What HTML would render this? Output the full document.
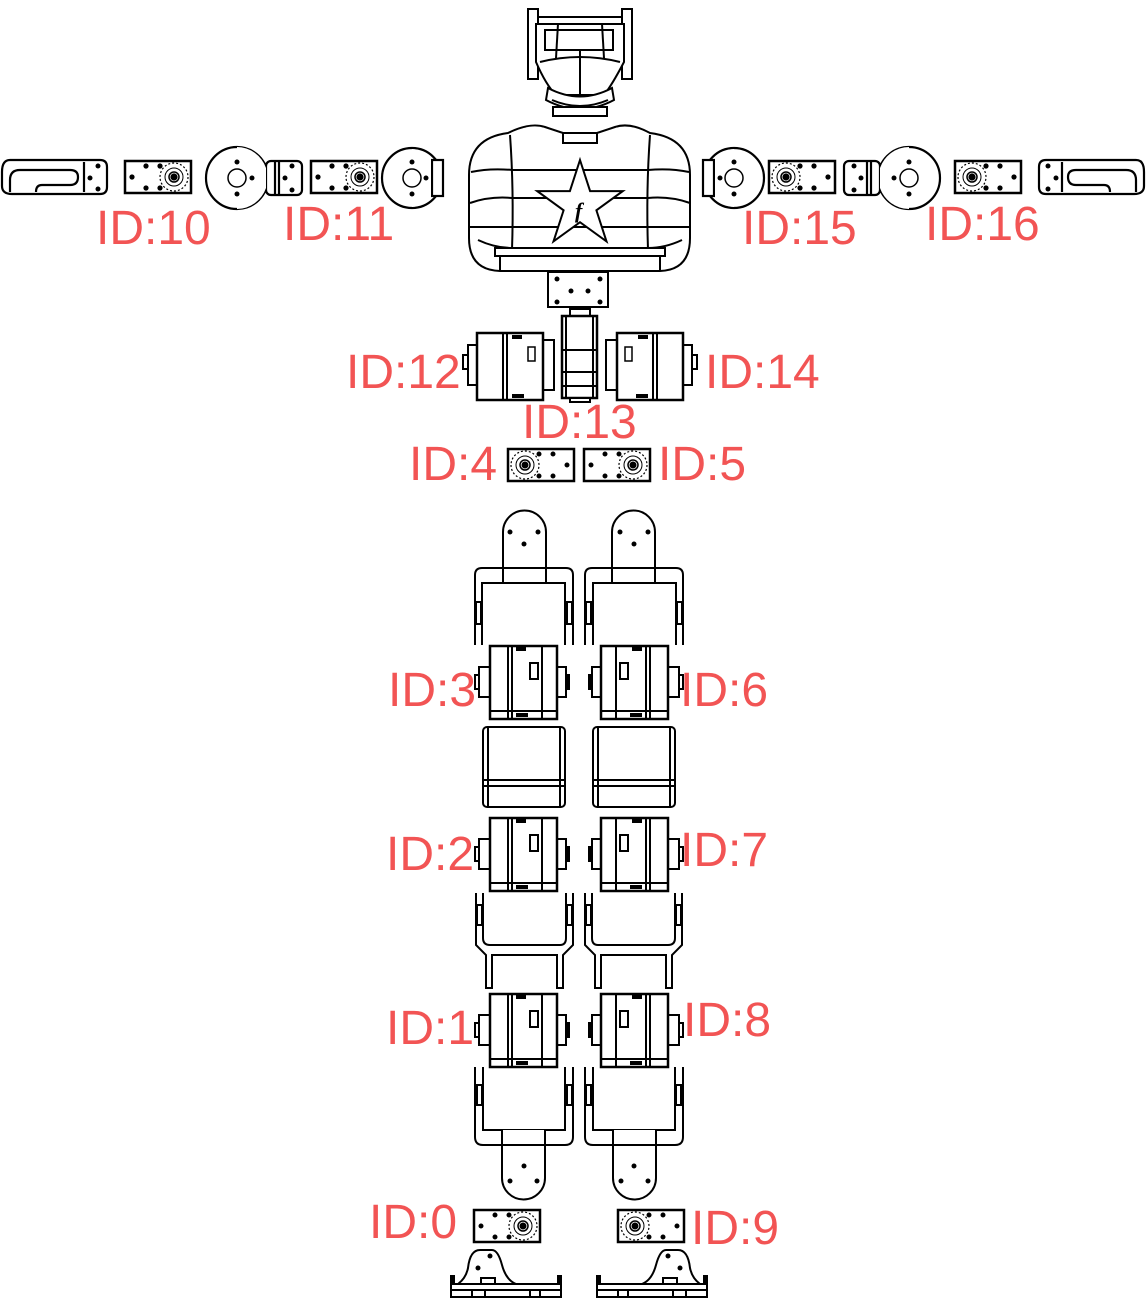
<!DOCTYPE html>
<html><head><meta charset="utf-8"><style>
html,body{margin:0;padding:0;background:#fff;}
svg{display:block;}
.l{font-family:"Liberation Sans","Noto Sans CJK SC",sans-serif;font-size:48px;fill:#f25454;}
</style></head><body>
<svg width="1146" height="1311" viewBox="0 0 1146 1311" xmlns="http://www.w3.org/2000/svg">
<defs>
<g id="ss" fill="#fff" stroke="#000">
  <rect x="1" y="1" width="66" height="32" stroke-width="2.5"/>
  <circle cx="50" cy="17" r="14" stroke-width="1.2" stroke-dasharray="2 2"/>
  <circle cx="50" cy="17" r="9" stroke-width="1"/>
  <circle cx="50" cy="17" r="5" stroke-width="1.5"/>
  <circle cx="50" cy="17" r="2.5" fill="#000"/>
  <circle cx="8" cy="17" r="1.5" fill="#000"/>
  <circle cx="22" cy="6" r="1.5" fill="#000"/>
  <circle cx="22" cy="28" r="1.5" fill="#000"/>
  <circle cx="36" cy="6" r="1.5" fill="#000"/>
  <circle cx="36" cy="28" r="1.5" fill="#000"/>
</g>
<g id="ls" fill="#fff" stroke="#000" stroke-width="2">
  <rect x="-3" y="30" width="4" height="14"/>
  <rect x="1" y="22" width="11" height="30"/>
  <rect x="79" y="22" width="9" height="30"/>
  <rect x="88" y="30" width="3" height="14" fill="#000"/>
  <rect x="12" y="1" width="67" height="73" stroke-width="2.5"/>
  <line x1="30" y1="1" x2="30" y2="74"/>
  <line x1="34" y1="1" x2="34" y2="74"/>
  <line x1="64" y1="1" x2="64" y2="74"/>
  <line x1="12" y1="66" x2="79" y2="66"/>
  <rect x="38" y="2" width="10" height="4" fill="#000" stroke="none"/>
  <rect x="38" y="68" width="12" height="4" fill="#000" stroke="none"/>
  <rect x="52" y="18" width="8" height="16" stroke-width="2"/>
</g>
<g id="arm" fill="#fff" stroke="#000" stroke-width="2.2">
  <path d="M10,160 H100 Q107,160 107,167 V187 Q107,194 100,194 H12 Q2,194 2,186 V172 Q2,160 10,160 Z"/>
  <path d="M10,192 V180 Q10,170 20,170 H70 Q78,170 78,177 Q78,185 70,185 H42 Q36,185 36,192" fill="none"/>
  <line x1="84" y1="162" x2="84" y2="192"/>
  <circle cx="98" cy="166" r="2.5" fill="#000" stroke="none"/>
  <circle cx="90" cy="178" r="2.5" fill="#000" stroke="none"/>
  <circle cx="98" cy="189" r="2.5" fill="#000" stroke="none"/>
  <use href="#ss" x="124" y="160"/>
  <circle cx="237" cy="178" r="31"/>
  <rect x="266" y="161" width="36" height="34" rx="5"/>
  <path d="M237,147 A31,31 0 0 1 266,168 V188 A31,31 0 0 1 237,209" fill="#fff" stroke="none"/>
  <line x1="275" y1="161" x2="275" y2="195"/><line x1="279" y1="161" x2="279" y2="195"/>
  <circle cx="237" cy="178" r="9" stroke-width="1.5"/>
  <circle cx="237" cy="162" r="2.5" fill="#000" stroke="none"/><circle cx="237" cy="194" r="2.5" fill="#000" stroke="none"/><circle cx="252" cy="178" r="2.5" fill="#000" stroke="none"/>
  <circle cx="292" cy="166" r="2.5" fill="#000" stroke="none"/><circle cx="285" cy="178" r="2.5" fill="#000" stroke="none"/><circle cx="292" cy="190" r="2.5" fill="#000" stroke="none"/>
  <use href="#ss" x="310" y="160"/>
  <circle cx="412" cy="178" r="30"/>
  <rect x="432" y="160" width="11" height="36"/>
  <path d="M412,149 A29,29 0 0 1 431,158 V198 A29,29 0 0 1 412,207 Z" fill="#fff" stroke="none"/>
  <circle cx="412" cy="178" r="9" stroke-width="1.5"/>
  <circle cx="412" cy="162" r="2.5" fill="#000" stroke="none"/><circle cx="412" cy="194" r="2.5" fill="#000" stroke="none"/><circle cx="426" cy="178" r="2.5" fill="#000" stroke="none"/>
</g>
<g id="leg" fill="#fff" stroke="#000" stroke-width="2">
  <path d="M503,582 V532 A21.5,21.5 0 0 1 546,532 V582"/>
  <circle cx="510" cy="532" r="2.5" fill="#000" stroke="none"/><circle cx="538" cy="532" r="2.5" fill="#000" stroke="none"/><circle cx="524" cy="544" r="2.5" fill="#000" stroke="none"/>
  <path d="M475,645 V575 Q475,568 482,568 H566 Q573,568 573,575 V645" fill="none"/>
  <path d="M482,645 V583 H565 V645" fill="none"/>
  <rect x="476" y="602" width="5" height="22"/><rect x="567" y="602" width="5" height="22"/>
  <use href="#ls" x="478" y="645"/>
  <rect x="483" y="727" width="82" height="80" rx="4"/>
  <line x1="488" y1="727" x2="488" y2="807"/><line x1="560" y1="727" x2="560" y2="807"/>
  <line x1="483" y1="780" x2="565" y2="780"/><line x1="483" y1="786" x2="565" y2="786"/>
  <use href="#ls" x="478" y="817"/>
  <path d="M476,893 V945 L486,955 V988 H492 V955 H557 V988 H563 V955 L573,945 V893" fill="none"/>
  <path d="M483,893 V938 Q483,945 490,945 H560 Q566,945 566,938 V893" fill="none"/>
  <rect x="477" y="905" width="5" height="20"/><rect x="567" y="905" width="5" height="20"/>
  <use href="#ls" x="478" y="993"/>
  <path d="M475,1067 V1137 Q475,1145 483,1145 H565 Q573,1145 573,1137 V1067" fill="none"/>
  <path d="M483,1067 V1130 H565 V1067" fill="none"/>
  <rect x="477" y="1085" width="5" height="20"/><rect x="567" y="1085" width="5" height="20"/>
  <path d="M502,1130 V1178 A21.5,21.5 0 0 0 545,1178 V1130"/>
  <line x1="502" y1="1145" x2="545" y2="1145"/>
  <circle cx="510" cy="1181" r="2.5" fill="#000" stroke="none"/><circle cx="537" cy="1181" r="2.5" fill="#000" stroke="none"/><circle cx="524" cy="1166" r="2.5" fill="#000" stroke="none"/>
  <use href="#ss" x="473" y="1209"/>
  <path d="M458,1284 Q466,1278 468,1268 Q470,1250 480,1250 H492 Q498,1250 502,1265 Q506,1280 516,1284"/>
  <circle cx="490" cy="1256" r="2.5" fill="#000" stroke="none"/><circle cx="478" cy="1268" r="2.5" fill="#000" stroke="none"/>
  <rect x="481" y="1278" width="14" height="10"/>
  <rect x="451" y="1284" width="110" height="13"/>
  <line x1="451" y1="1290" x2="561" y2="1290"/>
  <line x1="472" y1="1290" x2="472" y2="1297"/><line x1="485" y1="1290" x2="485" y2="1297"/><line x1="530" y1="1290" x2="530" y2="1297"/><line x1="540" y1="1290" x2="540" y2="1297"/>
  <rect x="451" y="1276" width="3" height="8" fill="#000"/><rect x="558" y="1276" width="3" height="8" fill="#000"/>
  <use href="#ss" transform="translate(575,448) scale(-1,1)"/>
</g>
<g id="s12" fill="#fff" stroke="#000" stroke-width="2">
  <rect x="463" y="355" width="5" height="14"/>
  <rect x="468" y="345" width="9" height="40"/>
  <rect x="543" y="340" width="11" height="50"/>
  <rect x="477" y="333" width="66" height="67" stroke-width="2.5"/>
  <line x1="503" y1="333" x2="503" y2="400"/><line x1="507" y1="333" x2="507" y2="400"/>
  <rect x="512" y="335" width="10" height="4" fill="#000" stroke="none"/>
  <rect x="512" y="394" width="12" height="4" fill="#000" stroke="none"/>
  <rect x="528" y="347" width="7" height="14" stroke-width="1.5"/>
</g>
</defs>

<!-- head -->
<g fill="#fff" stroke="#000" stroke-width="2">
  <rect x="528" y="9" width="10" height="70"/>
  <rect x="622" y="9" width="10" height="70"/>
  <line x1="538" y1="17" x2="622" y2="17"/>
  <path d="M536,24 H624 V62 Q612,85 604,95 H556 Q546,85 536,62 Z"/>
  <rect x="545" y="30" width="68" height="20"/>
  <path d="M540,62 Q580,52 620,62" fill="none"/>
  <line x1="580" y1="50" x2="580" y2="98"/>
  <line x1="558" y1="24" x2="556" y2="58"/><line x1="602" y1="24" x2="604" y2="58"/>
  <path d="M548,88 Q580,105 612,88 L614,100 Q580,118 546,100 Z"/>
  <path d="M552,100 Q580,112 608,100" fill="none"/>
  <rect x="553" y="107" width="54" height="9"/>
</g>
<!-- torso -->
<g fill="#fff" stroke="#000" stroke-width="2">
  <path d="M508,133 Q530,122 545,127 L563,133 H597 L615,127 Q630,122 650,133 Q690,138 690,175 V238 Q690,270 660,271 H500 Q469,270 469,238 V175 Q469,138 508,133 Z"/>
  <rect x="563" y="133" width="34" height="10"/>
  <path d="M510,135 Q514,190 512,250" fill="none"/>
  <path d="M650,135 Q646,190 648,250" fill="none"/>
  <path d="M471,172 Q490,168 512,170 H648 Q670,168 689,172" fill="none"/>
  <path d="M470,203 Q490,196 512,198 H648 Q670,196 690,203" fill="none"/>
  <line x1="470" y1="227" x2="690" y2="227"/>
  <path d="M478,240 Q495,248 512,248 H648 Q665,248 682,240" fill="none"/>
  <rect x="495" y="248" width="170" height="8"/>
  <line x1="500" y1="256" x2="500" y2="270"/><line x1="660" y1="256" x2="660" y2="270"/>
  <polygon points="580,160 590.1,191.1 622.8,191.1 596.4,210.3 606.5,241.4 580,222.2 553.5,241.4 563.6,210.3 537.2,191.1 569.9,191.1"/>
  <text x="575" y="218" font-family="Liberation Serif,serif" font-style="italic" font-weight="bold" font-size="22" fill="#000" stroke="none">f</text>
  <rect x="548" y="272" width="60" height="35"/>
  <circle cx="557" cy="279" r="2.5" fill="#000" stroke="none"/><circle cx="600" cy="279" r="2.5" fill="#000" stroke="none"/>
  <circle cx="571" cy="291" r="2.5" fill="#000" stroke="none"/><circle cx="588" cy="291" r="2.5" fill="#000" stroke="none"/>
  <circle cx="557" cy="302" r="2.5" fill="#000" stroke="none"/><circle cx="600" cy="302" r="2.5" fill="#000" stroke="none"/>
  <rect x="570" y="309" width="20" height="7"/>
  <rect x="562" y="316" width="35" height="82" stroke-width="2.5"/>
  <line x1="566" y1="316" x2="566" y2="398"/><line x1="593" y1="316" x2="593" y2="398"/>
  <line x1="562" y1="350" x2="597" y2="350"/><line x1="562" y1="372" x2="597" y2="372"/><line x1="562" y1="386" x2="597" y2="386"/>
  <rect x="570" y="398" width="20" height="4"/>
</g>
<use href="#s12"/>
<use href="#s12" transform="translate(1160,0) scale(-1,1)"/>

<use href="#arm"/>
<use href="#arm" transform="translate(1146,0) scale(-1,1)"/>

<use href="#leg"/>
<use href="#leg" transform="translate(1158,0) scale(-1,1)"/>

<text class="l" x="96" y="244">ID:10</text>
<text class="l" x="283" y="240">ID:11</text>
<text class="l" x="742" y="244">ID:15</text>
<text class="l" x="925" y="240">ID:16</text>
<text class="l" x="346" y="388">ID:12</text>
<text class="l" x="705" y="388">ID:14</text>
<text class="l" x="522" y="438">ID:13</text>
<text class="l" x="409" y="480">ID:4</text>
<text class="l" x="658" y="480">ID:5</text>
<text class="l" x="388" y="706">ID:3</text>
<text class="l" x="680" y="706">ID:6</text>
<text class="l" x="386" y="870">ID:2</text>
<text class="l" x="680" y="866">ID:7</text>
<text class="l" x="386" y="1044">ID:1</text>
<text class="l" x="683" y="1036">ID:8</text>
<text class="l" x="369" y="1238">ID:0</text>
<text class="l" x="691" y="1244">ID:9</text>
</svg>
</body></html>
